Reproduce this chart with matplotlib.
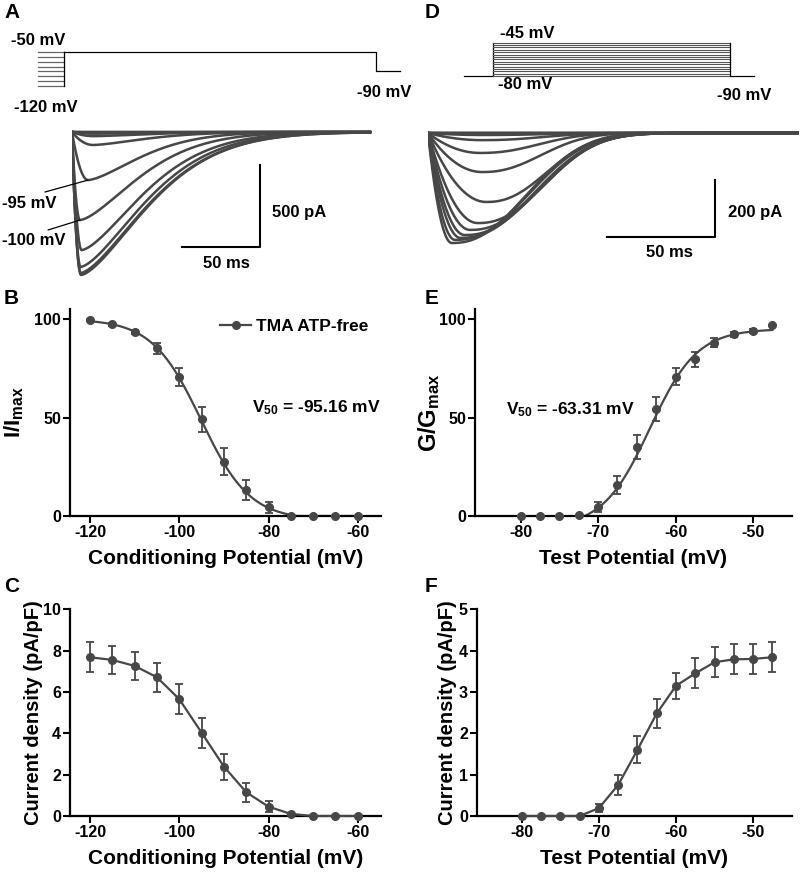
import numpy as np
import matplotlib
matplotlib.use("Agg")
import matplotlib.pyplot as plt
from matplotlib.lines import Line2D

# ---- values ----
# B / C: steady-state inactivation vs conditioning potential
cond_mv = [-120, -115, -110, -105, -100, -95, -90, -85, -80, -75, -70, -65, -60]
inact_pct = [99.5, 97.3, 93.6, 85.1, 70.7, 49.1, 27.6, 13.2, 4.4, 0.0, 0.0, 0.0, 0.0]
inact_sem = [0.6, 0.8, 1.0, 2.7, 4.5, 6.4, 7.0, 5.0, 2.7, 0.3, 0.0, 0.0, 0.0]
cond_density = [7.68, 7.55, 7.26, 6.71, 5.65, 4.03, 2.39, 1.15, 0.45, 0.1, 0.0, 0.0, 0.0]
cond_density_sem = [0.72, 0.69, 0.68, 0.71, 0.73, 0.73, 0.63, 0.46, 0.26, 0.03, 0.0, 0.0, 0.0]

# E / F: activation vs test potential
test_mv = [-80, -77.5, -75, -72.5, -70, -67.5, -65, -62.5, -60, -57.5, -55, -52.5, -50, -47.5]
act_pct = [0.0, 0.0, 0.0, 0.3, 4.7, 15.7, 34.9, 54.3, 70.7, 79.5, 88.0, 92.2, 93.9, 97.0]
act_sem = [0.0, 0.0, 0.0, 0.3, 2.5, 4.5, 6.0, 6.0, 4.2, 4.0, 2.3, 1.2, 1.0, 0.0]
act_density = [0.0, 0.0, 0.0, 0.0, 0.19, 0.75, 1.6, 2.48, 3.15, 3.45, 3.72, 3.79, 3.80, 3.84]
act_density_sem = [0.0, 0.0, 0.0, 0.0, 0.09, 0.24, 0.33, 0.34, 0.32, 0.36, 0.36, 0.36, 0.37, 0.36]

# Boltzmann fits (V50 printed in the figure, the rest estimated)
inact_fit = dict(v50=-95.16, k=5.5, top=100.0, bottom=-2.0)
act_fit = dict(v50=-63.31, k=3.05, top=95.0, bottom=-6.0)

# example currents: peak (pA), time to peak (ms), decay width (ms)
a_peak_pa = [872, 860, 823, 720, 537, 293, 79, 25, 10, 4, 2, 0, 0]
a_tpeak_ms = [5.8, 5.6, 5.5, 6.2, 5.1, 10.3, 13.5, 14, 14, 14, 14, 14, 14]
a_decay_ms = [57, 57, 55, 53, 50, 45, 45, 45, 45, 45, 45, 45, 45]
d_peak_pa = [0, 0, 0, 2, 7, 25, 70, 137, 242, 316, 340, 358, 368, 375, 386]
d_tpeak_ms = [25, 25, 25, 25, 25, 25, 24, 25, 27, 23, 19.5, 17, 15, 12.5, 11]
d_decay_ms = [40, 40, 40, 40, 38, 36, 35, 35, 36, 40, 42, 43, 44, 44, 44]

# voltage protocols (mV) and their timing (ms)
a_prepulse_mv = [-120, -110, -100, -90, -80, -70, -60, -50]
a_test_mv, a_tail_mv = -50, -90
a_protocol_ms = [16.7, 216.7, 232.0]
d_step_mv = [-80, -77.5, -75, -72.5, -70, -67.5, -65, -62.5, -60, -57.5, -55, -52.5, -50, -47.5, -45]
d_hold_mv = -80
d_protocol_ms = [13.3, 123.3, 134.4]

GREY = "#474747"
W, H = 800, 873

plt.rcParams.update({
    "font.family": ["Liberation Sans", "DejaVu Sans"],
    "font.weight": "bold",
    "axes.labelweight": "bold",
    "axes.unicode_minus": False,
    "mathtext.fontset": "custom",
    "mathtext.rm": "Liberation Sans:bold",
    "mathtext.it": "Liberation Sans:bold",
    "mathtext.bf": "Liberation Sans:bold",
})

fig = plt.figure(figsize=(W / 100, H / 100), dpi=100)


def box(x0, y0, x1, y1):
    # axes placed by pixel edges (top-left origin)
    return fig.add_axes([x0 / W, 1 - y1 / H, (x1 - x0) / W, (y1 - y0) / H])


def ftext(x, y, s, **kw):
    kw.setdefault("fontsize", 12)
    kw.setdefault("va", "baseline")
    fig.text(x / W, 1 - y / H, s, **kw)


def trace(t, peak, tp, w, p):
    rise = 1 - (1 - np.clip(t / tp, 0, 1)) ** 2
    fall = np.exp(-(np.clip(t - tp, 0, None) / w) ** p)
    return -peak * np.where(t < tp, rise, fall)


def boltzmann(v, v50, k, top, bottom, sign):
    return bottom + (top - bottom) / (1 + np.exp(sign * (np.asarray(v) - v50) / k))


def style(ax):
    for s in ("top", "right"):
        ax.spines[s].set_visible(False)
    for s in ("left", "bottom"):
        ax.spines[s].set_linewidth(1.6)
    ax.tick_params(direction="out", length=5, width=1.5, labelsize=11.5, pad=1.5)


eb = dict(color=GREY, ms=5.5, capsize=3, elinewidth=1.3, capthick=1.3, clip_on=False, zorder=5)
XLAB_Y = -33 / 207

# ---------------- A: protocol + traces ----------------
ax = box(30, 35, 410, 100)
ax.axis("off")
ax.set_xlim(-5.13, 238.5)
ax.set_ylim(-148.8, -15)
for v in a_prepulse_mv:
    ax.plot([0, a_protocol_ms[0]], [v, v], color="#666666", lw=0.9)
ax.plot([a_protocol_ms[0]] * 2, [min(a_prepulse_mv), a_test_mv], color="k", lw=0.9)
ax.plot([a_protocol_ms[0], a_protocol_ms[1], a_protocol_ms[1], a_protocol_ms[2]],
        [a_test_mv, a_test_mv, a_tail_mv, a_tail_mv], color="k", lw=0.9)

ax = box(72, 115, 371.5, 285)
ax.axis("off")
ax.set_xlim(0, 192)
ax.set_ylim(-933, 104)
t = np.linspace(0, 191, 1500)
for pk, tp, w in zip(a_peak_pa, a_tpeak_ms, a_decay_ms):
    ax.plot(t, trace(t, pk, tp, w, 1.5), color=GREY, lw=1.8)
ax.plot([70.5, 120.5, 120.5], [-700, -700, -200], color="k", lw=1.5)
for i, (sx, sy) in zip([5, 4], [(45, 192), (48, 230)]):
    ax.annotate("", xy=(a_tpeak_ms[i], -a_peak_pa[i]), xytext=(sx, H - sy),
                textcoords="figure pixels",
                arrowprops=dict(arrowstyle="-", color="k", lw=0.9, shrinkA=0, shrinkB=0))

ftext(11, 45, "-50 mV")
ftext(14, 112, "-120 mV")
ftext(357, 97, "-90 mV")
ftext(2, 208, "-95 mV")
ftext(2, 245, "-100 mV")
ftext(272, 217, "500 pA")
ftext(226, 268, "50 ms", ha="center")

# ---------------- D: protocol + traces ----------------
ax = box(455, 30, 800, 100)
ax.axis("off")
ax.set_xlim(-4.17, 155.6)
ax.set_ylim(-105.2, -31.6)
t0, t1, t2 = d_protocol_ms
ax.plot([0, t0, t0], [d_hold_mv, d_hold_mv, max(d_step_mv)], color="k", lw=0.9)
for v in d_step_mv:
    ax.plot([t0, t1], [v, v], color="#555555", lw=0.8)
ax.plot([t1, t1, t2], [max(d_step_mv), d_hold_mv, d_hold_mv], color="k", lw=0.9)

ax = box(428, 115, 799.5, 260)
ax.axis("off")
ax.set_xlim(0, 172)
ax.set_ylim(-445.6, 63.2)
t = np.linspace(0, 171, 1500)
for pk, tp, w in zip(d_peak_pa, d_tpeak_ms, d_decay_ms):
    ax.plot(t, trace(t, pk, tp, w, 2.3), color=GREY, lw=1.8)
ax.plot([82.9, 132.9, 132.9], [-365, -365, -165], color="k", lw=1.5)

ftext(500, 38, "-45 mV")
ftext(498, 89, "-80 mV")
ftext(717, 100, "-90 mV")
ftext(728, 217, "200 pA")
ftext(669, 257, "50 ms", ha="center")

# ---------------- B ----------------
ax = box(70, 309, 381, 516)
style(ax)
ax.set_xlim(-124.5, -54.8)
ax.set_ylim(0, 105.1)
v = np.linspace(-120, -60, 400)
ax.plot(v, np.clip(boltzmann(v, sign=1, **inact_fit), 0, None), color=GREY, lw=1.6)
ax.errorbar(cond_mv, inact_pct, yerr=inact_sem, fmt="o", **eb)
ax.set_xticks([-120, -100, -80, -60])
ax.set_yticks([0, 50, 100])
ax.set_ylabel(r"I/I$_{max}$", fontsize=16)
ax.yaxis.set_label_coords(-0.141, 0.5)
ax.set_xlabel("Conditioning Potential (mV)", fontsize=15)
ax.xaxis.set_label_coords(0.5, XLAB_Y)
ax.legend(handles=[Line2D([], [], color=GREY, marker="o", ms=5.5, lw=1.6)],
          labels=["TMA ATP-free"], loc="center left",
          bbox_to_anchor=(220 / W, 1 - 326 / H), bbox_transform=fig.transFigure,
          frameon=False, fontsize=12.5, handlelength=1.8, handletextpad=0.25,
          borderpad=0, borderaxespad=0)
ftext(252, 412, r"V$_{50}$ = -95.16 mV", fontsize=12.5)

# ---------------- E ----------------
ax = box(475, 309, 791.7, 516)
style(ax)
ax.set_xlim(-85.9, -45)
ax.set_ylim(0, 105.1)
v = np.linspace(-76, -47.5, 400)
g = boltzmann(v, sign=-1, **act_fit)
ax.plot(v[g >= 0], g[g >= 0], color=GREY, lw=1.6)
ax.errorbar(test_mv, act_pct, yerr=act_sem, fmt="o", **eb)
ax.set_xticks([-80, -70, -60, -50])
ax.set_yticks([0, 50, 100])
ax.set_ylabel(r"G/G$_{max}$", fontsize=17)
ax.yaxis.set_label_coords(-0.105, 0.5)
ax.set_xlabel("Test Potential (mV)", fontsize=15)
ax.xaxis.set_label_coords(0.5, XLAB_Y)
ftext(506, 414, r"V$_{50}$ = -63.31 mV", fontsize=12.5)

# ---------------- C ----------------
ax = box(70, 609.3, 381, 816)
style(ax)
ax.set_xlim(-124.5, -54.8)
ax.set_ylim(0, 10)
ax.errorbar(cond_mv, cond_density, yerr=cond_density_sem, fmt="-o", lw=1.6, **eb)
ax.set_xticks([-120, -100, -80, -60])
ax.set_yticks([0, 2, 4, 6, 8, 10])
ax.set_ylabel("Current density (pA/pF)", fontsize=14.5)
ax.yaxis.set_label_coords(-0.088, 0.5)
ax.set_xlabel("Conditioning Potential (mV)", fontsize=15)
ax.xaxis.set_label_coords(0.5, XLAB_Y)

# ---------------- F ----------------
ax = box(477, 609.3, 791.7, 816)
style(ax)
ax.set_xlim(-85.8, -45)
ax.set_ylim(0, 5)
ax.errorbar(test_mv, act_density, yerr=act_density_sem, fmt="-o", lw=1.6, **eb)
ax.set_xticks([-80, -70, -60, -50])
ax.set_yticks([0, 1, 2, 3, 4, 5])
ax.set_ylabel("Current density (pA/pF)", fontsize=14.5)
ax.yaxis.set_label_coords(-0.062, 0.5)
ax.set_xlabel("Test Potential (mV)", fontsize=15)
ax.xaxis.set_label_coords(0.5, XLAB_Y)

# panel letters
for letter, x, y in [("A", 4, 18), ("B", 4, 304), ("C", 4, 592),
                     ("D", 425, 18), ("E", 425, 304), ("F", 425, 592)]:
    ftext(x, y, letter, fontsize=15)

fig.savefig("out.png", dpi=100)
